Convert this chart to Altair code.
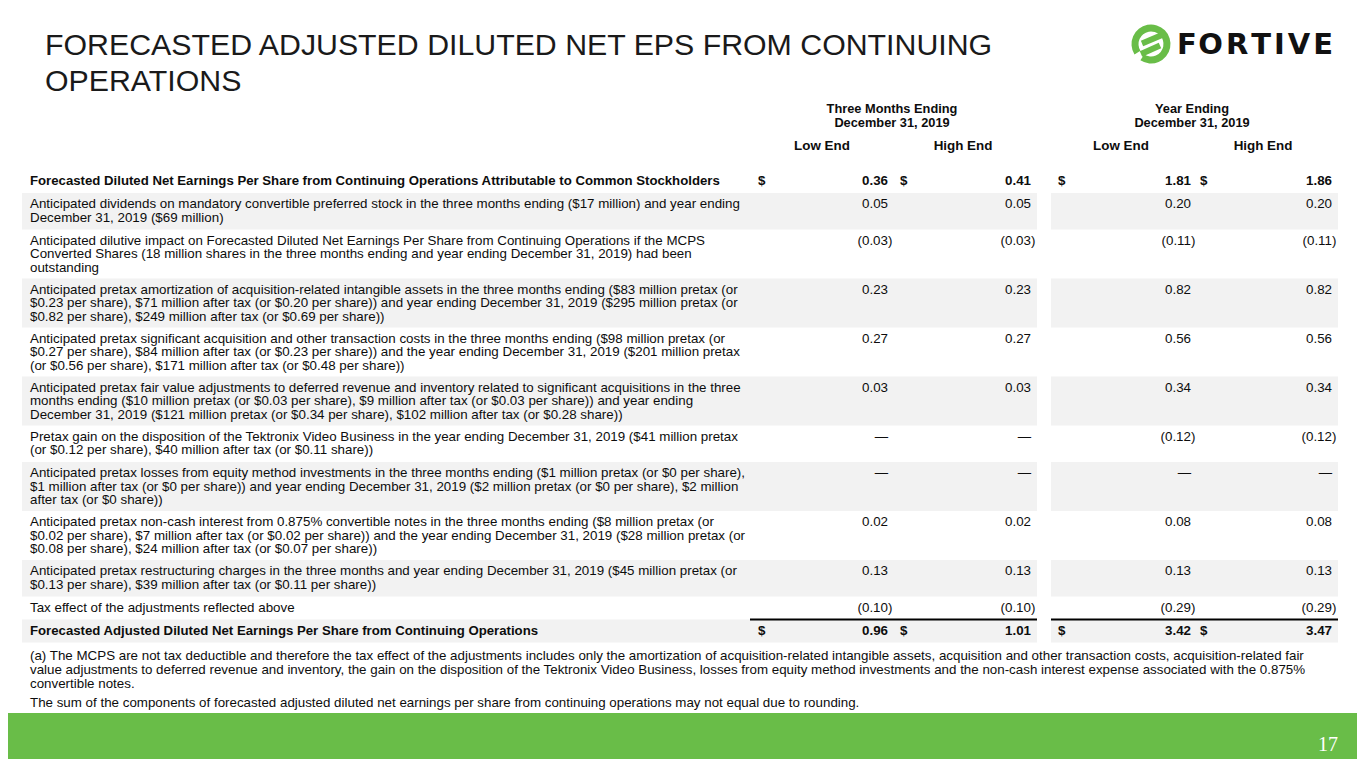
import altair as alt
import pandas as pd

# ---------------- data ----------------
title_lines = ["FORECASTED ADJUSTED DILUTED NET EPS FROM CONTINUING", "OPERATIONS"]
period_headers = [["Three Months Ending", "December 31, 2019"],
                  ["Year Ending", "December 31, 2019"]]
sub_headers = ["Low End", "High End", "Low End", "High End"]

row_labels = [
    ["Forecasted Diluted Net Earnings Per Share from Continuing Operations Attributable to Common Stockholders"],
    ["Anticipated dividends on mandatory convertible preferred stock in the three months ending ($17 million) and year ending",
     "December 31, 2019 ($69 million)"],
    ["Anticipated dilutive impact on Forecasted Diluted Net Earnings Per Share from Continuing Operations if the MCPS",
     "Converted Shares (18 million shares in the three months ending and year ending December 31, 2019) had been",
     "outstanding"],
    ["Anticipated pretax amortization of acquisition-related intangible assets in the three months ending ($83 million pretax (or",
     "$0.23 per share), $71 million after tax (or $0.20 per share)) and year ending December 31, 2019 ($295 million pretax (or",
     "$0.82 per share), $249 million after tax (or $0.69 per share))"],
    ["Anticipated pretax significant acquisition and other transaction costs in the three months ending ($98 million pretax (or",
     "$0.27 per share), $84 million after tax (or $0.23 per share)) and the year ending December 31, 2019 ($201 million pretax",
     "(or $0.56 per share), $171 million after tax (or $0.48 per share))"],
    ["Anticipated pretax fair value adjustments to deferred revenue and inventory related to significant acquisitions in the three",
     "months ending ($10 million pretax (or $0.03 per share), $9 million after tax (or $0.03 per share)) and year ending",
     "December 31, 2019 ($121 million pretax (or $0.34 per share), $102 million after tax (or $0.28 share))"],
    ["Pretax gain on the disposition of the Tektronix Video Business in the year ending December 31, 2019 ($41 million pretax",
     "(or $0.12 per share), $40 million after tax (or $0.11 share))"],
    ["Anticipated pretax losses from equity method investments in the three months ending ($1 million pretax (or $0 per share),",
     "$1 million after tax (or $0 per share)) and year ending December 31, 2019 ($2 million pretax (or $0 per share), $2 million",
     "after tax (or $0 share))"],
    ["Anticipated pretax non-cash interest from 0.875% convertible notes in the three months ending ($8 million pretax (or",
     "$0.02 per share), $7 million after tax (or $0.02 per share)) and the year ending December 31, 2019 ($28 million pretax (or",
     "$0.08 per share), $24 million after tax (or $0.07 per share))"],
    ["Anticipated pretax restructuring charges in the three months and year ending December 31, 2019 ($45 million pretax (or",
     "$0.13 per share), $39 million after tax (or $0.11 per share))"],
    ["Tax effect of the adjustments reflected above"],
    ["Forecasted Adjusted Diluted Net Earnings Per Share from Continuing Operations"],
]
bold_rows = [0, 11]

q_low = [0.36, 0.05, -0.03, 0.23, 0.27, 0.03, None, None, 0.02, 0.13, -0.10, 0.96]
q_high = [0.41, 0.05, -0.03, 0.23, 0.27, 0.03, None, None, 0.02, 0.13, -0.10, 1.01]
y_low = [1.81, 0.20, -0.11, 0.82, 0.56, 0.34, -0.12, None, 0.08, 0.13, -0.29, 3.42]
y_high = [1.86, 0.20, -0.11, 0.82, 0.56, 0.34, -0.12, None, 0.08, 0.13, -0.29, 3.47]
series = [q_low, q_high, y_low, y_high]

footnote_lines = [
    ["(a) The MCPS are not tax deductible and therefore the tax effect of the adjustments includes only the amortization of acquisition-related intangible assets, acquisition and other transaction costs, acquisition-related fair",
     "value adjustments to deferred revenue and inventory, the gain on the disposition of the Tektronix Video Business, losses from equity method investments and the non-cash interest expense associated with the 0.875%",
     "convertible notes."],
    ["The sum of the components of forecasted adjusted diluted net earnings per share from continuing operations may not equal due to rounding."],
]
page_number = "17"
logo_word = "FORTIVE"

# ---------------- layout (slide pixel coordinates) ----------------
FONT = "Liberation Sans"
GREEN = "#69bd48"
BAND = "#f2f2f2"
TXT = "#0d0d0d"
FS = 13.35
FSB = 13.2
X0, X1, Y0, Y1 = 8, 1357, 8, 759
W, H = X1 - X0, Y1 - Y0
label_x = 30
col_right = [888, 1031, 1191, 1332]
dollar_x = [758, 900, 1058, 1200]
sub_header_x = [822, 963, 1121, 1263]
period_x = [892, 1192]
row_start = 170
row_h = {1: 23, 2: 36.5, 3: 49}
line_gap = 13.7
first_off = 11
band_spans = [(22, 1037), (1051, 1338)]
rule_spans = [(750, 1037), (1051, 1338)]
paren_w = 4.4
logo_size = 29
logo_gap = 3
logo_adv = {"F": 0.632, "O": 0.850, "R": 0.770, "T": 0.682, "I": 0.372, "V": 0.774, "E": 0.683}

xs = alt.Scale(domain=[X0, X1], nice=False, zero=False)
ys = alt.Scale(domain=[Y0, Y1], nice=False, zero=False, reverse=True)


def X(f):
    return alt.X(f, type="quantitative", scale=xs, axis=None)


def Y(f):
    return alt.Y(f, type="quantitative", scale=ys, axis=None)


def fmt(v):
    if v is None:
        return "—"
    if v < 0:
        return f"({abs(v):.2f})"
    return f"{v:.2f}"


labels, values, dollars, bands = [], [], [], []
top = row_start
row_tops = []
for i, lines in enumerate(row_labels):
    h = row_h[len(lines)]
    row_tops.append(top)
    fy = top + first_off
    bold = i in bold_rows
    for k, t in enumerate(lines):
        labels.append({"x": label_x, "y": fy + k * line_gap, "t": t, "b": bold})
    for c in range(4):
        v = series[c][i]
        values.append({"x": col_right[c] + (paren_w if (v is not None and v < 0) else 0),
                       "y": fy, "t": fmt(v), "b": bold})
        if bold:
            dollars.append({"x": dollar_x[c], "y": fy, "t": "$"})
    if i % 2 == 1:
        for a, b in band_spans:
            bands.append({"x": a, "x2": b, "y": top, "y2": top + h})
    top += h

rule_y = row_tops[11]
rules = [{"x": a, "x2": b, "y": rule_y} for a, b in rule_spans]

foot = []
fy = 656
for para in footnote_lines:
    for t in para:
        foot.append({"x": label_x, "y": fy, "t": t})
        fy += 14
    fy += 5

headers = []
for px, lines in zip(period_x, period_headers):
    for k, t in enumerate(lines):
        headers.append({"x": px, "y": 109 + k * 14, "t": t, "s": 12.8})
for sx, t in zip(sub_header_x, sub_headers):
    headers.append({"x": sx, "y": 146, "t": t, "s": 13.4})

titles = [{"x": 45, "y": 46 + k * 36, "t": t} for k, t in enumerate(title_lines)]

letters = []
lx = 1177
for ch in logo_word:
    letters.append({"x": lx, "y": 45, "t": ch})
    lx += logo_adv[ch] * logo_size + logo_gap

L = lambda d: alt.Data(values=d)

band_layer = alt.Chart(L(bands)).mark_rect(color=BAND).encode(
    x=X("x"), x2="x2:Q", y=Y("y"), y2="y2:Q")
rule_layer = alt.Chart(L(rules)).mark_rule(color="#000", strokeWidth=2.2).encode(
    x=X("x"), x2="x2:Q", y=Y("y"))

reg = [d for d in labels if not d["b"]]
bld = [d for d in labels if d["b"]]
label_reg = alt.Chart(L(reg)).mark_text(align="left", baseline="middle", font=FONT,
                                         fontSize=FS, color=TXT).encode(
    x=X("x"), y=Y("y"), text="t:N")
label_bld = alt.Chart(L(bld)).mark_text(align="left", baseline="middle", font=FONT,
                                         fontSize=FSB, fontWeight="bold", color=TXT).encode(
    x=X("x"), y=Y("y"), text="t:N")
val_reg = alt.Chart(L([d for d in values if not d["b"]])).mark_text(
    align="right", baseline="middle", font=FONT, fontSize=FS, color=TXT).encode(
    x=X("x"), y=Y("y"), text="t:N")
val_bld = alt.Chart(L([d for d in values if d["b"]])).mark_text(
    align="right", baseline="middle", font=FONT, fontSize=FS, fontWeight="bold", color=TXT).encode(
    x=X("x"), y=Y("y"), text="t:N")
dollar_layer = alt.Chart(L(dollars)).mark_text(
    align="left", baseline="middle", font=FONT, fontSize=FS, fontWeight="bold", color=TXT).encode(
    x=X("x"), y=Y("y"), text="t:N")
foot_layer = alt.Chart(L(foot)).mark_text(
    align="left", baseline="middle", font=FONT, fontSize=FS, color=TXT).encode(
    x=X("x"), y=Y("y"), text="t:N")
head_a = alt.Chart(L([d for d in headers if d["s"] == 12.8])).mark_text(
    align="center", baseline="middle", font=FONT, fontSize=12.8, fontWeight="bold", color=TXT).encode(
    x=X("x"), y=Y("y"), text="t:N")
head_b = alt.Chart(L([d for d in headers if d["s"] == 13.4])).mark_text(
    align="center", baseline="middle", font=FONT, fontSize=13.4, fontWeight="bold", color=TXT).encode(
    x=X("x"), y=Y("y"), text="t:N")
title_layer = alt.Chart(L(titles)).mark_text(
    align="left", baseline="middle", font=FONT, fontSize=30.3, color="#1a1a1a").encode(
    x=X("x"), y=Y("y"), text="t:N")

# footer bar
bar_layer = alt.Chart(L([{"x": 0, "x2": 1365, "y": 713, "y2": 768}])).mark_rect(color=GREEN).encode(
    x=X("x"), x2="x2:Q", y=Y("y"), y2="y2:Q")
page_layer = alt.Chart(L([{"x": 1328, "y": 745, "t": page_number}])).mark_text(
    align="center", baseline="middle", font="Liberation Serif", fontSize=20, color="white").encode(
    x=X("x"), y=Y("y"), text="t:N")

# logo
ring = alt.Chart(L([{"x": 1151, "y": 44}])).mark_arc(
    theta=4.15, theta2=10.0, radius=19.5, radius2=12.5, color=GREEN).encode(
    x=X("x"), y=Y("y"))
strokes = alt.Chart(L([{"x": 1142, "y": 43.5, "x2": 1162, "y2": 35},
                       {"x": 1141, "y": 54, "x2": 1160, "y2": 45.5}])).mark_rule(
    color=GREEN, strokeWidth=6).encode(x=X("x"), x2="x2:Q", y=Y("y"), y2="y2:Q")
word = alt.Chart(L(letters)).mark_text(
    align="left", baseline="middle", font="DejaVu Sans", fontSize=logo_size, fontWeight="bold",
    color="#111").encode(x=X("x"), y=Y("y"), text="t:N")

chart = alt.layer(
    band_layer, rule_layer, label_reg, label_bld, val_reg, val_bld, dollar_layer,
    foot_layer, head_a, head_b, title_layer, bar_layer, page_layer, ring, strokes, word
).properties(
    width=W, height=H, autosize=alt.AutoSizeParams(type="none"), padding=0,
    background="white"
).configure_view(stroke=None)

chart.save("out.html", embed_options={"renderer": "svg", "actions": False})
